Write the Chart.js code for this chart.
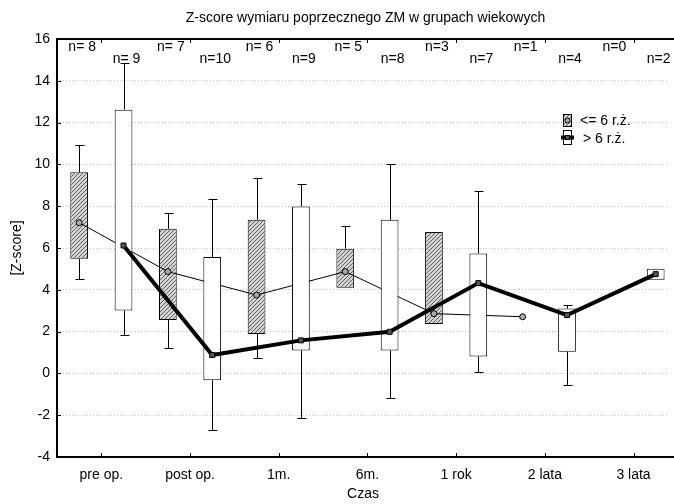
<!DOCTYPE html>
<html>
<head>
<meta charset="utf-8">
<script src="https://cdn.jsdelivr.net/npm/chart.js@4.4.0/dist/chart.umd.min.js"></script>
<style>
  body { margin: 0; background: #fff; }
</style>
</head>
<body>
<canvas id="wykres" width="674" height="504"></canvas>
<script>
const kategorie = ['pre op.', 'post op.', '1m.', '6m.', '1 rok', '2 lata', '3 lata'];

// grupa <= 6 r.ż.
const mlodsiN = [8, 7, 6, 5, 3, 1, 0];
const mlodsiMediana = [7.21, 4.87, 3.75, 4.87, 2.86, 2.71, null];
const mlodsiQ1 = [5.49, 2.55, 1.88, 4.10, 2.36, null, null];
const mlodsiQ3 = [9.63, 6.92, 7.35, 5.97, 6.76, null, null];
const mlodsiMin = [4.51, 1.21, 0.73, 4.10, 2.36, null, null];
const mlodsiMax = [10.95, 7.66, 9.36, 7.05, 6.76, null, null];

// grupa > 6 r.ż.
const starsiN = [9, 10, 9, 8, 7, 4, 2];
const starsiMediana = [6.12, 0.88, 1.58, 1.99, 4.32, 2.79, 4.75];
const starsiQ1 = [3.01, -0.33, 1.10, 1.10, 0.81, 1.04, 4.48];
const starsiQ3 = [12.62, 5.57, 7.99, 7.35, 5.74, 3.10, 5.01];
const starsiMin = [1.85, -2.73, -2.12, -1.16, 0.08, -0.57, 4.48];
const starsiMax = [14.87, 8.34, 9.06, 10.03, 8.74, 3.27, 5.01];

const yTicks = [-4, -2, 0, 2, 4, 6, 8, 10, 12, 14, 16];

const przes = 0.25;
const czcionka = '"Liberation Sans", Arial, sans-serif';

function kreskowanie() {
    const c = document.createElement('canvas');
    c.width = 4; c.height = 4;
    const g = c.getContext('2d');
    g.fillStyle = '#d2d2d2';
    g.fillRect(0, 0, 4, 4);
    g.strokeStyle = '#626262';
    g.lineWidth = 1;
    g.beginPath();
    g.moveTo(0, 4); g.lineTo(4, 0);
    g.moveTo(-1, 1); g.lineTo(1, -1);
    g.moveTo(3, 5); g.lineTo(5, 3);
    g.stroke();
    return g.createPattern(c, 'repeat');
}
const wzor = kreskowanie();

function pudelka(q1, q3, dx) {
    return kategorie.map((k, i) => ({ x: i + dx, y: q1[i] == null ? null : [q1[i], q3[i]] }));
}
function punkty(med, dx) {
    return kategorie.map((k, i) => ({ x: i + dx, y: med[i] }));
}

const dodatki = {
    id: 'dodatki',
    beforeDatasetsDraw(chart) {
        const ctx = chart.ctx, xs = chart.scales.x, ys = chart.scales.y;
        ctx.save();
        ctx.strokeStyle = '#000';
        ctx.lineWidth = 1;
        const wasy = (lo, hi, mn, mx, dx) => {
            kategorie.forEach((k, i) => {
                if (lo[i] == null) return;
                const x = Math.round(xs.getPixelForValue(i + dx)) + 0.5;
                [[hi[i], mx[i]], [lo[i], mn[i]]].forEach(([a, b]) => {
                    if (Math.abs(a - b) < 0.01) return;
                    const ya = ys.getPixelForValue(a), yb = Math.round(ys.getPixelForValue(b)) + 0.5;
                    ctx.beginPath();
                    ctx.moveTo(x, ya); ctx.lineTo(x, yb);
                    ctx.moveTo(x - 4, yb); ctx.lineTo(x + 5, yb);
                    ctx.stroke();
                });
            });
        };
        wasy(mlodsiQ1, mlodsiQ3, mlodsiMin, mlodsiMax, -przes);
        wasy(starsiQ1, starsiQ3, starsiMin, starsiMax, przes);
        ctx.restore();
    },
    afterDraw(chart) {
        const ctx = chart.ctx, xs = chart.scales.x, ys = chart.scales.y;
        const a = chart.chartArea;
        const prawo = chart.width;
        ctx.save();
        // osie
        ctx.strokeStyle = '#000';
        ctx.lineWidth = 2;
        ctx.beginPath();
        ctx.moveTo(prawo, a.top); ctx.lineTo(a.left, a.top);
        ctx.lineTo(a.left, a.bottom); ctx.lineTo(prawo, a.bottom);
        ctx.stroke();
        ctx.lineWidth = 1;
        ctx.beginPath();
        yTicks.forEach(v => {
            const y = Math.round(ys.getPixelForValue(v)) + 0.5;
            ctx.moveTo(a.left, y); ctx.lineTo(a.left + 4, y);
        });
        kategorie.forEach((k, i) => {
            const x = Math.round(xs.getPixelForValue(i)) + 0.5;
            ctx.moveTo(x, a.bottom); ctx.lineTo(x, a.bottom - 4);
            ctx.moveTo(x, a.top); ctx.lineTo(x, a.top + 4);
        });
        ctx.stroke();

        // liczebności
        ctx.fillStyle = '#000';
        ctx.font = '14px ' + czcionka;
        ctx.textAlign = 'center';
        ctx.textBaseline = 'middle';
        kategorie.forEach((k, i) => {
            ctx.fillText('n=' + (mlodsiN[i] < 10 && i < 4 ? ' ' : '') + mlodsiN[i], xs.getPixelForValue(i - przes) + 3, a.top + 8);
            ctx.fillText('n=' + (i < 2 && starsiN[i] < 10 ? ' ' : '') + starsiN[i], xs.getPixelForValue(i + przes) + 3, a.top + 20);
        });

        // tytuł
        ctx.fillText('Z-score wymiaru poprzecznego ZM w grupach wiekowych', (a.left + prawo) / 2, 18);

        // legenda
        const lx = 563, ly1 = 114, ly2 = 130;
        ctx.fillStyle = wzor;
        ctx.fillRect(lx, ly1, 8, 12);
        ctx.strokeRect(lx + 0.5, ly1 + 0.5, 8, 12);
        ctx.beginPath();
        ctx.arc(lx + 4.5, ly1 + 6.5, 2.5, 0, Math.PI * 2);
        ctx.fillStyle = '#aaa';
        ctx.fill();
        ctx.stroke();
        ctx.fillStyle = '#fff';
        ctx.fillRect(lx, ly2, 8, 14);
        ctx.strokeRect(lx + 0.5, ly2 + 0.5, 8, 14);
        ctx.lineWidth = 4;
        ctx.beginPath();
        ctx.moveTo(lx - 2, ly2 + 7.5); ctx.lineTo(lx + 11, ly2 + 7.5);
        ctx.stroke();
        ctx.lineWidth = 1;
        ctx.fillStyle = '#555';
        ctx.fillRect(lx + 2, ly2 + 5, 5, 5);
        ctx.strokeRect(lx + 2.5, ly2 + 5.5, 4, 4);
        ctx.fillStyle = '#000';
        ctx.textAlign = 'left';
        ctx.fillText('<= 6 r.ż.', 580, 121);
        ctx.fillText('> 6 r.ż.', 583, 139);
        ctx.restore();
    }
};

new Chart(document.getElementById('wykres').getContext('2d'), {
    type: 'bar',
    data: {
        datasets: [
            {
                type: 'line',
                label: '<= 6 r.ż.',
                data: punkty(mlodsiMediana, -przes),
                borderColor: '#000',
                borderWidth: 1,
                pointStyle: 'circle',
                pointRadius: 3,
                pointBackgroundColor: '#aaa',
                pointBorderColor: '#000',
                pointBorderWidth: 1,
                spanGaps: false,
                order: 3
            },
            {
                label: '<= 6 r.ż. box',
                data: pudelka(mlodsiQ1, mlodsiQ3, -przes),
                backgroundColor: wzor,
                borderColor: '#000',
                borderWidth: 1,
                borderSkipped: false,
                order: 4
            },
            {
                label: '> 6 r.ż. box',
                data: pudelka(starsiQ1, starsiQ3, przes),
                backgroundColor: '#fff',
                borderColor: '#000',
                borderWidth: 1,
                borderSkipped: false,
                order: 2
            },
            {
                type: 'line',
                label: '> 6 r.ż.',
                data: punkty(starsiMediana, przes),
                borderColor: '#000',
                borderWidth: 4,
                pointStyle: 'rect',
                pointRadius: 3.5,
                pointBackgroundColor: '#555',
                pointBorderColor: '#000',
                pointBorderWidth: 1,
                order: 1
            }
        ]
    },
    options: {
        responsive: false,
        animation: false,
        grouped: false,
        categoryPercentage: 1,
        barPercentage: 0.4,
        layout: { padding: { top: 39, right: 0, left: 0, bottom: 0 } },
        plugins: {
            legend: { display: false },
            tooltip: { enabled: false }
        },
        scales: {
            x: {
                type: 'linear',
                offset: false,
                min: -0.5,
                max: 6.4,
                afterBuildTicks(axis) {
                    axis.ticks = kategorie.map((k, i) => ({ value: i }));
                },
                afterFit(scale) {
                    scale.height = 47;
                    scale.paddingLeft = 0;
                    scale.paddingRight = 0;
                },
                grid: { display: false, drawTicks: false, offset: false },
                border: { display: false },
                ticks: {
                    color: '#000',
                    font: { size: 14, family: czcionka },
                    padding: 10,
                    maxRotation: 0,
                    autoSkip: false,
                    callback: (v) => kategorie[v]
                },
                title: {
                    display: true,
                    text: 'Czas',
                    color: '#000',
                    font: { size: 14, family: czcionka },
                    padding: { top: 0, bottom: 1 }
                }
            },
            y: {
                min: -4,
                max: 16,
                afterBuildTicks(axis) {
                    axis.ticks = yTicks.map(v => ({ value: v }));
                },
                afterFit(scale) { scale.width = 57; },
                grid: { color: '#c4c4c4', drawTicks: false },
                border: { display: false, dash: [1, 2] },
                ticks: {
                    color: '#000',
                    font: { size: 14, family: czcionka },
                    padding: 7
                },
                title: {
                    display: true,
                    text: '[Z-score]',
                    color: '#000',
                    font: { size: 14, family: czcionka },
                    padding: { top: 9, bottom: 0 }
                }
            }
        }
    },
    plugins: [dodatki]
});
</script>
</body>
</html>
